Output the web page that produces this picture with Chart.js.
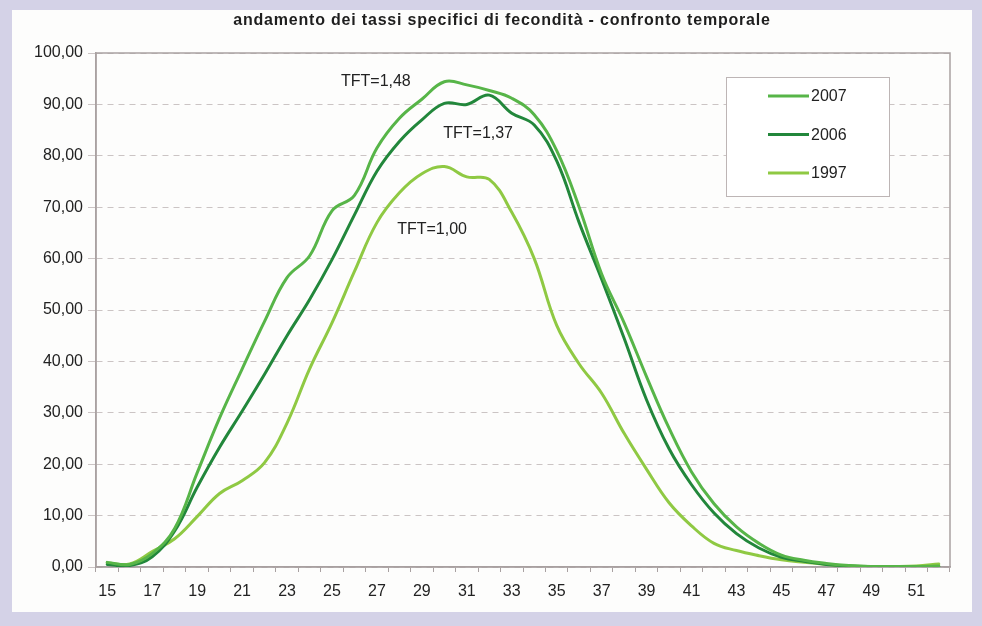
<!DOCTYPE html>
<html lang="it">
<head>
<meta charset="utf-8">
<title>tassi specifici di fecondità</title>
<script src="https://cdn.jsdelivr.net/npm/chart.js@4/dist/chart.umd.min.js"></script>
<style>
  html, body { margin: 0; padding: 0; }
  body { width: 982px; height: 626px; background: #d4d2e7; position: relative; overflow: hidden; }
  #pannello { position: absolute; left: 12px; top: 10px; width: 960px; height: 602px; background: #fdfdfc; }
  #wrap { position: absolute; left: 0; top: 0; width: 982px; height: 626px; }
</style>
</head>
<body>
<div id="pannello"></div>
<div id="wrap"><canvas id="grafico" width="982" height="626"></canvas></div>
<script>
// età (asse x)
const eta = ['15','16','17','18','19','20','21','22','23','24','25','26','27','28','29','30','31','32','33',
  '34','35','36','37','38','39','40','41','42','43','44','45','46','47','48','49','50','51','52']

// tassi specifici per anno
const tassi2007 = [0.9, 0.5, 2.6, 7.5, 18.3, 29.0, 38.5, 47.8, 56.3, 60.5, 69.3, 72.3, 81.5, 87.3, 91.0, 94.4, 93.8, 92.7, 91.2,
  88.0, 81.0, 70.0, 57.0, 47.5, 37.0, 27.0, 18.5, 12.3, 7.8, 4.6, 2.3, 1.3, 0.7, 0.3, 0.1, 0.1, 0.1, 0.2]
const tassi2006 = [0.5, 0.3, 2.0, 7.0, 15.5, 23.3, 30.3, 37.5, 45.0, 52.0, 59.8, 68.5, 77.0, 82.8, 87.0, 90.2, 90.0, 91.8, 88.3,
  86.0, 79.0, 67.0, 56.0, 44.5, 32.5, 23.0, 16.0, 10.5, 6.5, 3.7, 1.9, 1.1, 0.5, 0.2, 0.1, 0.1, 0.1, 0.1]
const tassi1997 = [0.8, 0.6, 3.0, 5.5, 9.8, 14.3, 16.8, 20.3, 28.0, 38.5, 47.5, 57.5, 67.0, 72.8, 76.5, 77.9, 75.9, 75.4, 69.0,
  60.0, 47.0, 39.5, 33.8, 26.0, 19.0, 12.5, 8.0, 4.6, 3.2, 2.2, 1.4, 0.9, 0.5, 0.2, 0.1, 0.1, 0.2, 0.6]

const anni = ['2007', '2006', '1997']
const coloriAnni = ['#57b548', '#22873b', '#8fc943']

// etichette TFT: testo, età (indice sull'asse) e valore dove iniziano
const tftTesti = ['TFT=1,48', 'TFT=1,37', 'TFT=1,00']
const tftX = [10.4, 14.95, 12.9]
const tftY = [94.4, 84.4, 65.6]

const titolo = 'andamento dei tassi specifici di fecondità - confronto temporale'
const fontBase = 'Arial, "Liberation Sans", sans-serif'

// cornice grigia attorno all'area del grafico
const cornice = {
  id: 'cornice',
  beforeDatasetsDraw(chart) {
    const a = chart.chartArea
    const ctx = chart.ctx
    ctx.save()
    ctx.strokeStyle = '#a9a1a1'
    ctx.lineWidth = 1.5
    ctx.strokeRect(a.left, a.top, a.right - a.left, a.bottom - a.top)
    ctx.restore()
  }
}

// titolo, etichette TFT e legenda dentro il grafico
const testi = {
  id: 'testi',
  afterDraw(chart) {
    const ctx = chart.ctx
    const x = chart.scales.x
    const y = chart.scales.y
    ctx.save()

    ctx.fillStyle = '#1e1e1e'
    ctx.font = 'bold 16px ' + fontBase
    ctx.letterSpacing = '0.8px'
    ctx.textAlign = 'center'
    ctx.textBaseline = 'middle'
    ctx.fillText(titolo, 502, 21)
    ctx.letterSpacing = '0px'

    ctx.font = '16px ' + fontBase
    ctx.textAlign = 'left'
    ctx.fillStyle = '#222'
    for (let i = 0; i < tftTesti.length; i++) {
      const px = x.getPixelForValue(0) + tftX[i] * (x.getPixelForValue(1) - x.getPixelForValue(0))
      ctx.fillText(tftTesti[i], px, y.getPixelForValue(tftY[i]))
    }

    // legenda
    const lx = 726, ly = 77, lw = 163, lh = 119
    ctx.fillStyle = '#ffffff'
    ctx.fillRect(lx, ly, lw, lh)
    ctx.strokeStyle = '#bdb5b5'
    ctx.lineWidth = 1
    ctx.strokeRect(lx + 0.5, ly + 0.5, lw, lh)
    chart.data.datasets.forEach(function(ds, i) {
      const ry = 96 + i * 38.5
      ctx.strokeStyle = ds.borderColor
      ctx.lineWidth = ds.borderWidth
      ctx.beginPath()
      ctx.moveTo(768, ry)
      ctx.lineTo(809, ry)
      ctx.stroke()
      ctx.fillStyle = '#222'
      ctx.fillText(ds.label, 811, ry + 1)
    })
    ctx.restore()
  }
}

const grafico = new Chart(document.querySelector('canvas#grafico'), {
  type: 'line',
  data: {
    labels: eta,
    datasets: [
      { label: anni[0], data: tassi2007, borderColor: coloriAnni[0], borderWidth: 3 },
      { label: anni[1], data: tassi2006, borderColor: coloriAnni[1], borderWidth: 3 },
      { label: anni[2], data: tassi1997, borderColor: coloriAnni[2], borderWidth: 3 }
    ]
  },
  options: {
    responsive: false,
    animation: false,
    devicePixelRatio: 1,
    layout: { padding: { top: 53, left: 10, right: 32, bottom: 29 } },
    elements: {
      point: { radius: 0 },
      line: { tension: 0.4, borderCapStyle: 'round', borderJoinStyle: 'round' }
    },
    plugins: {
      legend: { display: false },
      title: { display: false },
      tooltip: { enabled: false }
    },
    scales: {
      x: {
        offset: true,
        afterFit(scale) { scale.height = 30 },
        grid: { offset: true, drawOnChartArea: false, tickLength: 5, color: '#a9a1a1' },
        border: { color: '#a9a1a1', width: 1.5 },
        ticks: {
          autoSkip: false,
          maxRotation: 0,
          padding: 10,
          color: '#222',
          font: { size: 16, family: fontBase },
          callback: function(value, index) {
            return index % 2 === 0 ? eta[index] : ''
          }
        }
      },
      y: {
        min: 0,
        max: 100,
        afterFit(scale) { scale.width = 86 },
        grid: { color: '#cbc4c4', lineWidth: 1, tickLength: 8 },
        border: { color: '#a9a1a1', width: 1.5, dash: [6, 5] },
        ticks: {
          stepSize: 10,
          padding: 5,
          color: '#222',
          font: { size: 16, family: fontBase },
          callback: function(value) {
            return value.toFixed(2).replace('.', ',')
          }
        }
      }
    }
  },
  plugins: [cornice, testi]
})
</script>
</body>
</html>
